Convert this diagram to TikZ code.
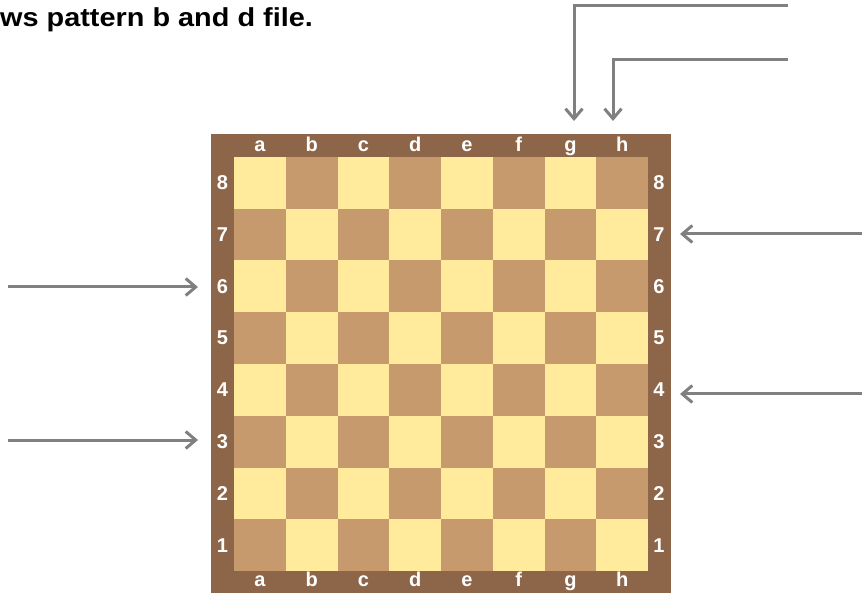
\documentclass[tikz,border=0pt]{standalone}
\usepackage{fontspec}
\setmainfont{Liberation Sans}
\usetikzlibrary{arrows.meta}
\definecolor{frameC}{RGB}{141,101,72}
\definecolor{darksq}{RGB}{199,154,110}
\definecolor{lightsq}{RGB}{255,235,155}
\definecolor{arrowgray}{RGB}{128,128,128}
\tikzset{
  titletext/.style={font=\bfseries\fontsize{26}{30}\selectfont, text=black, inner sep=0pt},
  lbl/.style={font=\bfseries\fontsize{20}{24}\selectfont, text=white, inner sep=0pt},
  sqbox/.style={minimum width=51.75pt, minimum height=51.75pt, inner sep=0pt, draw=none},
  arr/.style={draw=arrowgray, line width=3pt, -{Straight Barb[length=10pt,width=17pt]}},
}
\begin{document}
\begin{tikzpicture}[x=1pt,y=-1pt]
\useasboundingbox (0,0) rectangle (862,593);
\node[titletext, anchor=base west] (title) at (0,27) {\scalebox{1.11}[1]{ws pattern b and d file.}};
\node[fill=frameC, minimum width=460pt, minimum height=459pt, inner sep=0pt, anchor=north west] (board) at (211,134) {};
\foreach \c in {0,...,7} {
  \foreach \r in {0,...,7} {
    \pgfmathtruncatemacro{\prty}{mod(\c+\r,2)}
    \ifnum\prty=0 \def\sqcol{lightsq}\else\def\sqcol{darksq}\fi
    \node[sqbox, fill=\sqcol] (sq-\c-\r) at ({234+51.75*\c+25.875},{157+51.75*\r+25.875}) {};
  }
}
\foreach \f [count=\i from 0] in {a,b,c,d,e,f,g,h} {
  \node[lbl, anchor=base] (top-\f) at ({234+51.75*\i+25.875},152) {\f};
  \node[lbl, anchor=base] (bot-\f) at ({234+51.75*\i+25.875},586.5) {\f};
}
\foreach \n [count=\i from 0] in {8,7,6,5,4,3,2,1} {
  \node[lbl] (left-\n) at (222.5,{157+51.75*\i+25.875}) {\n};
  \node[lbl] (right-\n) at (659,{157+51.75*\i+25.875}) {\n};
}
\coordinate (t1s) at (788,6);
\coordinate (t1e) at (574,121);
\coordinate (t2s) at (788,60);
\coordinate (t2e) at (613,121);
\coordinate (l1s) at (8,287);
\coordinate (l1e) at (198,287);
\coordinate (l2s) at (8,440);
\coordinate (l2e) at (198,440);
\coordinate (r1s) at (862,234);
\coordinate (r1e) at (680,234);
\coordinate (r2s) at (862,394);
\coordinate (r2e) at (680,394);
\draw[arr] (t1s) -| (t1e);
\draw[arr] (t2s) -| (t2e);
\draw[arr] (l1s) -- (l1e);
\draw[arr] (l2s) -- (l2e);
\draw[arr] (r1s) -- (r1e);
\draw[arr] (r2s) -- (r2e);
\end{tikzpicture}
\end{document}
